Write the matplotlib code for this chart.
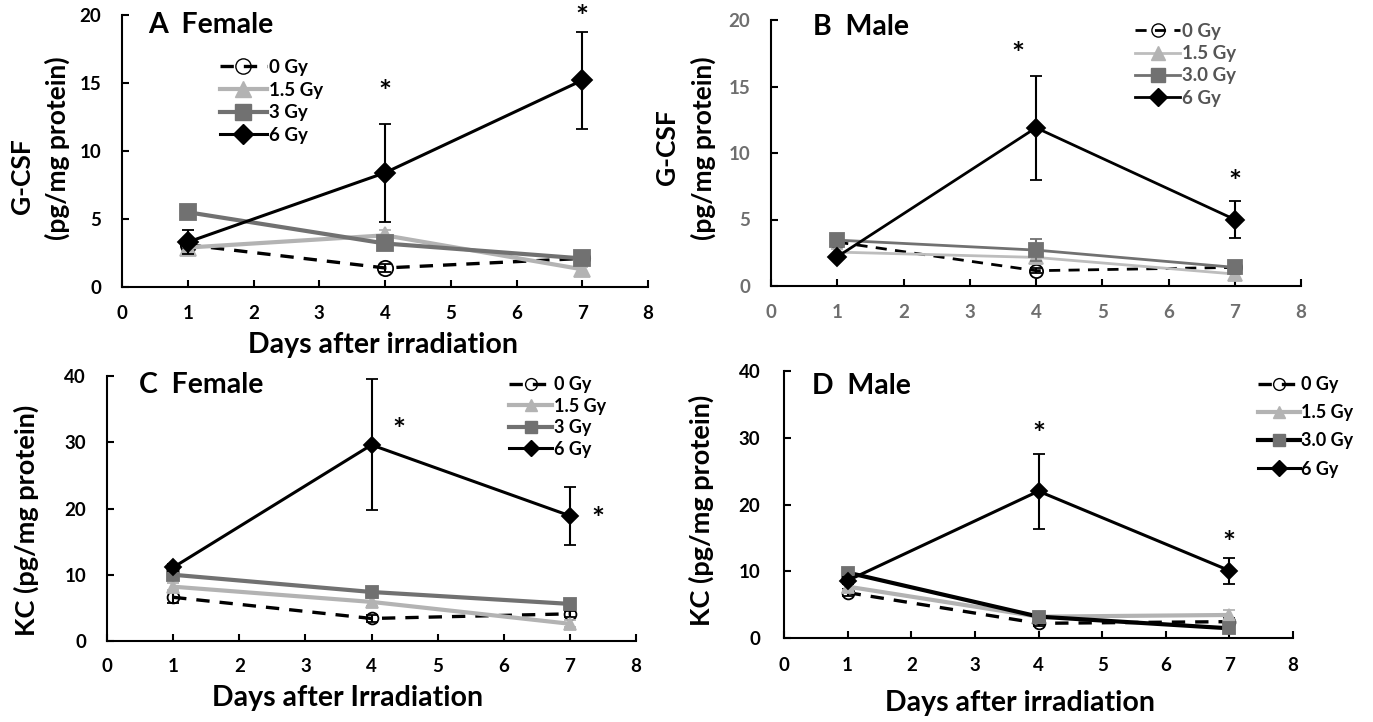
import matplotlib.pyplot as plt
from matplotlib.lines import Line2D

plt.rcParams['font.family'] = ['Lato', 'DejaVu Sans']
plt.rcParams['font.weight'] = 'bold'

W, H = 1373, 722
days = [1, 4, 7]
doses = ['0 Gy', '1.5 Gy', '3 Gy', '6 Gy']
doses_male = ['0 Gy', '1.5 Gy', '3.0 Gy', '6 Gy']

# A: G-CSF, female
a_mean = [[3.1, 1.4, 2.1], [2.9, 3.8, 1.3], [5.5, 3.2, 2.1], [3.3, 8.4, 15.2]]
a_err = [[0.3, 0.3, 0.2], [0.4, 0.4, 0.2], [0.4, 0.4, 0.4], [0.9, 3.6, 3.55]]
a_star_x = [4, 7]
a_star_y = [14.9, 20.4]

# B: G-CSF, male
b_mean = [[3.3, 1.15, 1.4], [2.55, 2.15, 0.9], [3.45, 2.7, 1.4], [2.2, 11.9, 5.0]]
b_err = [[0.2, 0.2, 0.2], [0.2, 0.3, 0.3], [0.3, 0.85, 0.5], [0.2, 3.9, 1.4]]
b_star_x = [3.72, 7]
b_star_y = [18.0, 8.4]

# C: KC, female
c_mean = [[6.6, 3.4, 4.1], [8.2, 5.9, 2.6], [10.0, 7.4, 5.6], [11.1, 29.6, 18.9]]
c_err = [[0.8, 0.5, 0.5], [0.5, 0.6, 0.5], [0.5, 0.5, 0.4], [0.5, 9.9, 4.4]]
c_star_x = [4.42, 7.43]
c_star_y = [33.0, 19.5]

# D: KC, male
d_mean = [[6.8, 2.2, 2.45], [7.7, 3.2, 3.45], [9.8, 3.2, 1.45], [8.6, 22.0, 10.1]]
d_err = [[0.5, 0.4, 0.5], [0.5, 0.4, 0.8], [0.6, 0.4, 0.6], [0.5, 5.6, 1.95]]
d_star_x = [4, 7]
d_star_y = [31.6, 15.4]

LIGHT = '#b3b3b3'
MID = '#717171'
BLACK = '#000000'


def rect(left, right, top, bottom):
    return [left / W, 1 - bottom / H, (right - left) / W, (bottom - top) / H]


def fx(x):
    return x / W


def fy(y):
    return 1 - y / H


def panel(ax, means, errs, ymax, ystep, styles, msize, tickcolor, ypad, xpad):
    for (m, e, st) in zip(means, errs, styles):
        ax.errorbar(days, m, yerr=e, color=st['lc'], ls=st['ls'], lw=st['lw'],
                    marker=st['mk'], ms=msize * st.get('ms', 1), mfc=st['mfc'], mec=st['mec'],
                    mew=1.3, ecolor=st['ec'], elinewidth=1.5, capsize=4, capthick=1.5,
                    zorder=st['z'], dashes=st.get('dashes', (None, None)))
    ax.set_xlim(0, 8)
    ax.set_ylim(0, ymax)
    ax.set_xticks(range(0, 9))
    ax.set_yticks(range(0, ymax + 1, ystep))
    for s in ['top', 'right']:
        ax.spines[s].set_visible(False)
    for s in ['left', 'bottom']:
        ax.spines[s].set_linewidth(1.5)
    ax.tick_params(direction='in', length=5, width=1.5, labelsize=13.5,
                   labelcolor=tickcolor)
    ax.tick_params(axis='y', pad=ypad)
    ax.tick_params(axis='x', pad=xpad)
    ax.patch.set_alpha(0)


def styles_for(line3='#717171', thick0=2.4):
    return [
        dict(lc=BLACK, ls='--', lw=thick0, mk='o', mfc='none', mec=BLACK, ec=BLACK, z=3, dashes=(4, 3)),
        dict(lc=LIGHT, ls='-', lw=3, mk='^', mfc=LIGHT, mec=LIGHT, ec=LIGHT, z=4, ms=1.1),
        dict(lc=line3, ls='-', lw=3, mk='s', mfc=MID, mec=MID, ec=MID, z=5),
        dict(lc=BLACK, ls='-', lw=2.2, mk='D', mfc=BLACK, mec=BLACK, ec=BLACK, z=6, ms=0.95),
    ]


def add_legend(ax, labels, styles, msize, x, y, fontsize, spacing, hlen, textcolor='black'):
    handles = []
    for st in styles:
        handles.append(Line2D([], [], color=st['lc'], ls=st['ls'], lw=st['lw'], marker=st['mk'],
                              ms=msize * st.get('ms', 1), mfc=st['mfc'], mec=st['mec'],
                              dashes=st.get('dashes', (None, None))))
    leg = ax.legend(handles, labels, loc='upper left', bbox_to_anchor=(fx(x), fy(y)),
                    bbox_transform=ax.figure.transFigure, frameon=False, fontsize=fontsize,
                    handlelength=hlen, handletextpad=0.1, labelspacing=spacing,
                    borderpad=0, borderaxespad=0)
    for t in leg.get_texts():
        t.set_color(textcolor)


def stars(ax, xs, ys):
    for x, y in zip(xs, ys):
        ax.annotate('*', (x, y), xytext=(0, -6), textcoords='offset points',
                    ha='center', va='center', fontsize=22, fontweight='bold',
                    annotation_clip=False)


fig = plt.figure(figsize=(W / 100, H / 100), dpi=100)

# Panel A
axA = fig.add_axes(rect(122, 648, 15, 287))
stA = styles_for()
panel(axA, a_mean, a_err, 20, 5, stA, 11, 'black', 15, 13)
stars(axA, a_star_x, a_star_y)
add_legend(axA, doses, stA, 11, 220, 59, 13.5, 0.3, 2.5)
fig.text(fx(148), fy(25), 'A  Female', fontsize=20.5, va='center', ha='left')
fig.text(fx(22), fy(176), 'G-CSF', rotation=90, fontsize=19, ha='center', va='center')
fig.text(fx(57), fy(148), '(pg/mg protein)', rotation=90, fontsize=19, ha='center', va='center')
fig.text(fx(383), fy(345), 'Days after irradiation', fontsize=20.5, ha='center', va='center')

# Panel B
axB = fig.add_axes(rect(771, 1301, 20, 286))
stB = styles_for(thick0=2.2)
for s in stB:
    s['lw'] = 2.0
stB[1]['lc'] = '#bdbdbd'
panel(axB, b_mean, b_err, 20, 5, stB, 9.5, '#6e6e6e', 15, 13)
stars(axB, b_star_x, b_star_y)
add_legend(axB, doses_male, stB, 9.5, 1135, 23, 13.5, 0.28, 2.4, '#555555')
fig.text(fx(813), fy(27), 'B  Male', fontsize=20.5, va='center', ha='left')
fig.text(fx(667), fy(147), 'G-CSF', rotation=90, fontsize=19, ha='center', va='center')
fig.text(fx(703), fy(148), '(pg/mg protein)', rotation=90, fontsize=19, ha='center', va='center')

# Panel C
axC = fig.add_axes(rect(107, 636, 376, 641))
stC = styles_for()
panel(axC, c_mean, c_err, 40, 10, stC, 8.5, 'black', 15, 12)
stars(axC, c_star_x, c_star_y)
add_legend(axC, doses, stC, 8.5, 509, 376, 13, 0.25, 2.4)
fig.text(fx(139), fy(385), 'C  Female', fontsize=20.5, va='center', ha='left')
fig.text(fx(26), fy(520), 'KC (pg/mg protein)', rotation=90, fontsize=19.5, ha='center', va='center')
fig.text(fx(348), fy(698), 'Days after Irradiation', fontsize=20.5, ha='center', va='center')

# Panel D
axD = fig.add_axes(rect(784, 1293, 371, 638))
stD = styles_for(line3=BLACK)
panel(axD, d_mean, d_err, 40, 10, stD, 8.5, 'black', 17, 14)
stars(axD, d_star_x, d_star_y)
add_legend(axD, doses_male, stD, 8.5, 1258, 376, 13, 0.62, 2.3)
fig.text(fx(812), fy(386), 'D  Male', fontsize=20.5, va='center', ha='left')
fig.text(fx(701), fy(510), 'KC (pg/mg protein)', rotation=90, fontsize=19.5, ha='center', va='center')
fig.text(fx(1020), fy(703), 'Days after irradiation', fontsize=20.5, ha='center', va='center')

fig.savefig('out.png', dpi=100)
